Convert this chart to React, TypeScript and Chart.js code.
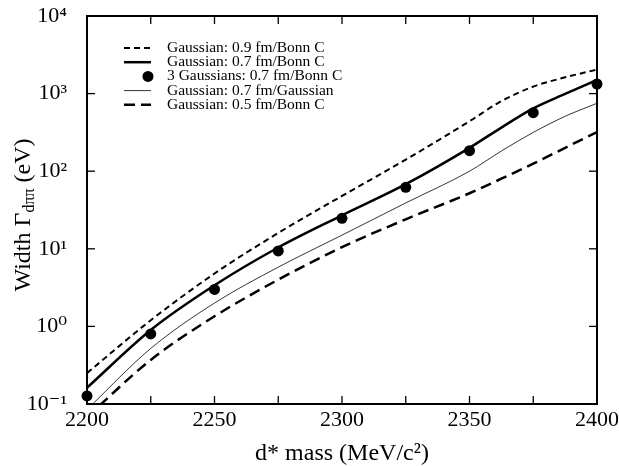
import React, { useEffect, useRef } from 'react';
import { Chart, registerables } from 'chart.js';

Chart.register(...registerables);

// ---- data ----
const curveMasses = [2200, 2225, 2250, 2275, 2300, 2325, 2350, 2362.5, 2375, 2387.5, 2400];
const gauss09Bonn = [0.25, 1.2, 4.8, 16, 48, 141, 440, 800, 1230, 1620, 2040];
const gauss07Bonn = [0.162, 0.9, 3.39, 10.4, 27, 68, 200, 365, 645, 990, 1500];
const gauss07Gauss = [0.085, 0.52, 2.0, 5.8, 15, 39, 100, 182, 316, 510, 750];
const gauss05Bonn = [0.068, 0.37, 1.35, 4.0, 10.5, 24, 52, 80, 125, 200, 320];

const pointMasses = [2200, 2225, 2250, 2275, 2300, 2325, 2350, 2375, 2400];
const threeGauss07Bonn = [0.127, 0.8, 3.0, 9.4, 24.7, 62, 184, 568, 1330];

const seriesLabels = [
  'Gaussian: 0.9 fm/Bonn C',
  'Gaussian: 0.7 fm/Bonn C',
  '3 Gaussians: 0.7 fm/Bonn C',
  'Gaussian: 0.7 fm/Gaussian',
  'Gaussian: 0.5 fm/Bonn C',
];

const yTickValues = [0.1, 1, 10, 100, 1000, 10000];
const yTickLabels = ['10⁻¹', '10⁰', '10¹', '10²', '10³', '10⁴'];
const xTitle = 'd* mass (MeV/c²)';
const yTitleMain = 'Width Γ';
const yTitleSub = 'dππ';
const yTitleEnd = ' (eV)';

const SERIF = '"Liberation Serif", "DejaVu Serif", serif';

const toPts = (xs: number[], ys: number[]) => xs.map((m, i) => ({ x: m, y: ys[i] }));

const framePlugin = {
  id: 'frameTicks',
  beforeDatasetsDraw(chart: any) {
    const { ctx, chartArea, scales } = chart;
    const { left, right, top, bottom } = chartArea;
    ctx.save();
    ctx.strokeStyle = '#000';
    ctx.lineWidth = 1.3;
    const line = (x1: number, y1: number, x2: number, y2: number) => {
      ctx.beginPath();
      ctx.moveTo(x1, y1);
      ctx.lineTo(x2, y2);
      ctx.stroke();
    };
    const tl = 8;
    scales.x.ticks.forEach((t: any) => {
      const px = scales.x.getPixelForValue(t.value);
      line(px, bottom, px, bottom - tl);
      line(px, top, px, top + tl);
    });
    scales.y.ticks.forEach((t: any) => {
      const py = scales.y.getPixelForValue(t.value);
      line(left, py, left + tl, py);
      line(right, py, right - tl, py);
    });
    ctx.lineWidth = 2;
    ctx.strokeRect(left, top, right - left, bottom - top);
    ctx.restore();
  },
};

const yTitlePlugin = {
  id: 'yTitle',
  afterDraw(chart: any) {
    const { ctx } = chart;
    const cy = 215;
    const cx = 24;
    ctx.save();
    ctx.fillStyle = '#000';
    ctx.textBaseline = 'middle';
    ctx.textAlign = 'left';
    const big = `24px ${SERIF}`;
    const small = `16px ${SERIF}`;
    ctx.font = big;
    const w1 = ctx.measureText(yTitleMain).width;
    const w3 = ctx.measureText(yTitleEnd).width;
    ctx.font = small;
    const w2 = ctx.measureText(yTitleSub).width;
    const total = w1 + w2 + w3;
    ctx.translate(cx, cy);
    ctx.rotate(-Math.PI / 2);
    let x = -total / 2;
    ctx.font = big;
    ctx.fillText(yTitleMain, x, 0);
    x += w1;
    ctx.font = small;
    ctx.fillText(yTitleSub, x, 6);
    x += w2;
    ctx.font = big;
    ctx.fillText(yTitleEnd, x, 0);
    ctx.restore();
  },
};

const legendPlugin = {
  id: 'innerLegend',
  afterDraw(chart: any) {
    const { ctx } = chart;
    const datasets = chart.data.datasets;
    ctx.save();
    ctx.font = `15.5px ${SERIF}`;
    ctx.textBaseline = 'middle';
    ctx.textAlign = 'left';
    ctx.fillStyle = '#000';
    datasets.forEach((ds: any, i: number) => {
      const y = 48 + i * 14.2;
      if (ds.showLine === false) {
        ctx.beginPath();
        ctx.arc(148, y, ds.pointRadius, 0, Math.PI * 2);
        ctx.fill();
      } else {
        ctx.strokeStyle = ds.borderColor;
        ctx.lineWidth = ds.borderWidth;
        ctx.setLineDash(ds.borderDash || []);
        ctx.beginPath();
        ctx.moveTo(124, y);
        ctx.lineTo(151, y);
        ctx.stroke();
        ctx.setLineDash([]);
      }
      ctx.fillText(ds.label, 167, y);
    });
    ctx.restore();
  },
};

export default function App() {
  const ref = useRef<HTMLCanvasElement | null>(null);

  useEffect(() => {
    if (!ref.current) return;
    const lineBase = {
      pointRadius: 0,
      borderColor: '#000',
      backgroundColor: '#000',
      fill: false,
      cubicInterpolationMode: 'monotone' as const,
    };
    const chart = new Chart(ref.current, {
      type: 'line',
      data: {
        datasets: [
          { ...lineBase, label: seriesLabels[0], data: toPts(curveMasses, gauss09Bonn), borderWidth: 2, borderDash: [6, 4] },
          { ...lineBase, label: seriesLabels[1], data: toPts(curveMasses, gauss07Bonn), borderWidth: 2.5 },
          {
            label: seriesLabels[2],
            data: toPts(pointMasses, threeGauss07Bonn),
            showLine: false,
            pointRadius: 5.5,
            pointBackgroundColor: '#000',
            pointBorderColor: '#000',
            pointBorderWidth: 0,
            borderColor: '#000',
            backgroundColor: '#000',
            clip: false,
          },
          { ...lineBase, label: seriesLabels[3], data: toPts(curveMasses, gauss07Gauss), borderWidth: 0.8 },
          { ...lineBase, label: seriesLabels[4], data: toPts(curveMasses, gauss05Bonn), borderWidth: 2.5, borderDash: [11, 6] },
        ] as any,
      },
      options: {
        responsive: false,
        animation: false,
        layout: { padding: { top: 16, right: 22, left: 0, bottom: 0 } },
        plugins: {
          legend: { display: false },
          tooltip: { enabled: false },
        },
        scales: {
          x: {
            type: 'linear',
            min: 2200,
            max: 2400,
            grid: { display: false, drawTicks: false },
            border: { display: false },
            afterFit: (s: any) => {
              s.height = 62;
              s.paddingLeft = 0;
              s.paddingRight = 0;
            },
            ticks: {
              stepSize: 25,
              autoSkip: false,
              maxRotation: 0,
              padding: 5,
              color: '#000',
              font: { family: SERIF, size: 22, lineHeight: 1 },
              callback: (v: any) => (Number(v) % 50 === 0 ? String(v) : ''),
            },
            title: {
              display: true,
              text: xTitle,
              color: '#000',
              font: { family: SERIF, size: 24, lineHeight: 1 },
              padding: { top: 0, bottom: 0 },
            },
          },
          y: {
            type: 'logarithmic',
            min: 0.1,
            max: 10000,
            grid: { display: false, drawTicks: false },
            border: { display: false },
            afterBuildTicks: (s: any) => {
              s.ticks = yTickValues.map((v) => ({ value: v }));
            },
            afterFit: (s: any) => {
              s.width = 87;
              s.paddingTop = 0;
              s.paddingBottom = 0;
            },
            ticks: {
              padding: 20,
              color: '#000',
              font: { family: SERIF, size: 22 },
              callback: (v: any) => {
                const i = yTickValues.findIndex((t) => Math.abs(t - Number(v)) < 1e-9 * Math.max(1, t));
                return i >= 0 ? yTickLabels[i] : '';
              },
            },
          },
        },
      } as any,
      plugins: [framePlugin, yTitlePlugin, legendPlugin],
    });
    return () => chart.destroy();
  }, []);

  return (
    <div style={{ position: 'fixed', left: 0, top: 0, width: 619, height: 466, background: '#fff' }}>
      <canvas ref={ref} width={619} height={466} />
    </div>
  );
}
